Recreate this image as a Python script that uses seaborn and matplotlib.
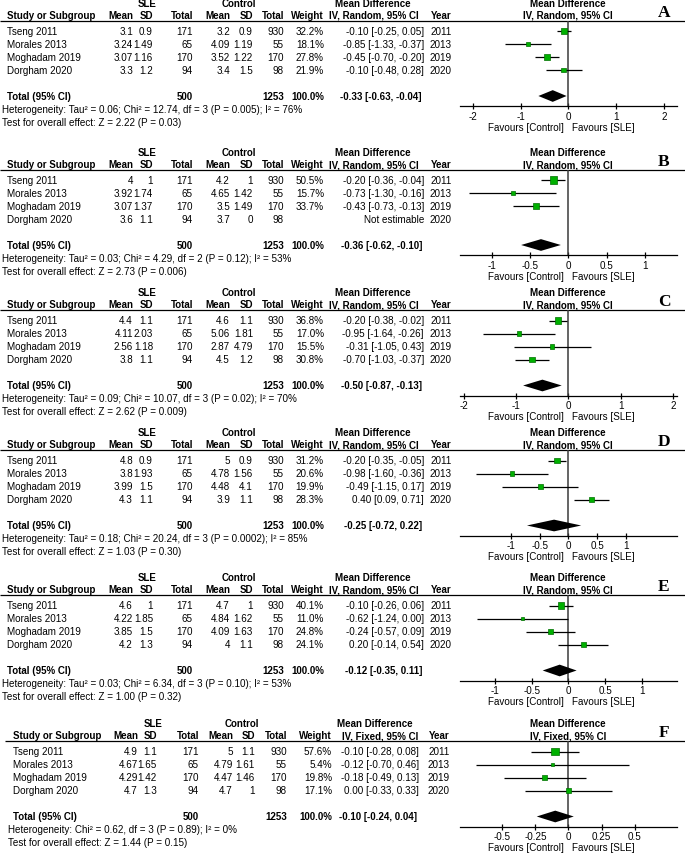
import numpy as np
import pandas as pd
import matplotlib
matplotlib.use("Agg")
import matplotlib.pyplot as plt
import seaborn as sns

nan = np.nan

# ---------------- data ----------------
panels = ["A", "B", "C", "D", "E", "F"]
studies = ["Tseng 2011", "Morales 2013", "Moghadam 2019", "Dorgham 2020"]
years = [2011, 2013, 2019, 2020]
sle_n = [171, 65, 170, 94]
ctl_n = [930, 55, 170, 98]
sle_total = 500
ctl_total = 1253

sle_mean = {"A": [3.1, 3.24, 3.07, 3.3], "B": [4, 3.92, 3.07, 3.6], "C": [4.4, 4.11, 2.56, 3.8],
            "D": [4.8, 3.8, 3.99, 4.3], "E": [4.6, 4.22, 3.85, 4.2], "F": [4.9, 4.67, 4.29, 4.7]}
sle_sd = {"A": [0.9, 1.49, 1.16, 1.2], "B": [1, 1.74, 1.37, 1.1], "C": [1.1, 2.03, 1.18, 1.1],
          "D": [0.9, 1.93, 1.5, 1.1], "E": [1, 1.85, 1.5, 1.3], "F": [1.1, 1.65, 1.42, 1.3]}
ctl_mean = {"A": [3.2, 4.09, 3.52, 3.4], "B": [4.2, 4.65, 3.5, 3.7], "C": [4.6, 5.06, 2.87, 4.5],
            "D": [5, 4.78, 4.48, 3.9], "E": [4.7, 4.84, 4.09, 4], "F": [5, 4.79, 4.47, 4.7]}
ctl_sd = {"A": [0.9, 1.19, 1.22, 1.5], "B": [1, 1.42, 1.49, 0], "C": [1.1, 1.81, 4.79, 1.2],
          "D": [0.9, 1.56, 4.1, 1.1], "E": [1, 1.62, 1.63, 1.1], "F": [1.1, 1.61, 1.46, 1]}
weight = {"A": [32.2, 18.1, 27.8, 21.9], "B": [50.5, 15.7, 33.7, nan], "C": [36.8, 17.0, 15.5, 30.8],
          "D": [31.2, 20.6, 19.9, 28.3], "E": [40.1, 11.0, 24.8, 24.1], "F": [57.6, 5.4, 19.8, 17.1]}
md = {"A": [-0.10, -0.85, -0.45, -0.10], "B": [-0.20, -0.73, -0.43, nan], "C": [-0.20, -0.95, -0.31, -0.70],
      "D": [-0.20, -0.98, -0.49, 0.40], "E": [-0.10, -0.62, -0.24, 0.20], "F": [-0.10, -0.12, -0.18, 0.00]}
md_lo = {"A": [-0.25, -1.33, -0.70, -0.48], "B": [-0.36, -1.30, -0.73, nan], "C": [-0.38, -1.64, -1.05, -1.03],
         "D": [-0.35, -1.60, -1.15, 0.09], "E": [-0.26, -1.24, -0.57, -0.14], "F": [-0.28, -0.70, -0.49, -0.33]}
md_hi = {"A": [0.05, -0.37, -0.20, 0.28], "B": [-0.04, -0.16, -0.13, nan], "C": [-0.02, -0.26, 0.43, -0.37],
         "D": [-0.05, -0.36, 0.17, 0.71], "E": [0.06, 0.00, 0.09, 0.54], "F": [0.08, 0.46, 0.13, 0.33]}
total_md = {"A": -0.33, "B": -0.36, "C": -0.50, "D": -0.25, "E": -0.12, "F": -0.10}
total_lo = {"A": -0.63, "B": -0.62, "C": -0.87, "D": -0.72, "E": -0.35, "F": -0.24}
total_hi = {"A": -0.04, "B": -0.10, "C": -0.13, "D": 0.22, "E": 0.11, "F": 0.04}
tau2 = {"A": 0.06, "B": 0.03, "C": 0.09, "D": 0.18, "E": 0.03, "F": None}
chi2 = {"A": 12.74, "B": 4.29, "C": 10.07, "D": 20.24, "E": 6.34, "F": 0.62}
df_het = {"A": 3, "B": 2, "C": 3, "D": 3, "E": 3, "F": 3}
p_het = {"A": "0.005", "B": "0.12", "C": "0.02", "D": "0.0002", "E": "0.10", "F": "0.89"}
i2 = {"A": 76, "B": 53, "C": 70, "D": 85, "E": 53, "F": 0}
z_val = {"A": 2.22, "B": 2.73, "C": 2.62, "D": 1.03, "E": 1.00, "F": 1.44}
p_z = {"A": "0.03", "B": "0.006", "C": "0.009", "D": "0.30", "E": "0.32", "F": "0.15"}
model = {"A": "Random", "B": "Random", "C": "Random", "D": "Random", "E": "Random", "F": "Fixed"}
ticks = {"A": [-2, -1, 0, 1, 2], "B": [-1, -0.5, 0, 0.5, 1], "C": [-2, -1, 0, 1, 2],
         "D": [-1, -0.5, 0, 0.5, 1], "E": [-1, -0.5, 0, 0.5, 1], "F": [-0.5, -0.25, 0, 0.25, 0.5]}

# ---------------- layout (pixels) ----------------
W, H = 685, 854
underline_y = {"A": 21.5, "B": 170.5, "C": 311, "D": 451, "E": 596, "F": 742}
half_width = {"A": 2.27, "B": 1.42, "C": 2.08, "D": 1.88, "E": 1.47, "F": 0.82}
cols_std = dict(study=7, het=2, mean=133, sd=153, tot=193, cmean=230, csd=253, ctot=284, wt=324,
                md=424, mdh1=411, mdh2=419, year=441, sle=147, ctl=239, line0=0)
cols_F = dict(study=13, het=8, mean=138, sd=157, tot=199, cmean=233, csd=255, ctot=287, wt=332,
              md=419, mdh1=413, mdh2=418, year=439, sle=153, ctl=242, line0=5)
plot_left, plot_right = 460, 677
plot_center = 568
axis_drop = 85.5
row_top, row_pitch = 10.5, 13.0

sns.set_theme(style="white")
plt.rcParams["font.family"] = ["Liberation Sans", "DejaVu Sans"]
plt.rcParams["axes.unicode_minus"] = False

fig = plt.figure(figsize=(W / 100, H / 100), dpi=100)
tax = fig.add_axes([0, 0, 1, 1])
tax.set_xlim(0, W)
tax.set_ylim(H, 0)
tax.axis("off")

FS = 7.1
FSB = 7.0


def T(x, y, s, ha="left", bold=False, **kw):
    tax.text(x, y, s, ha=ha, va="center", fontsize=FSB if bold else FS,
             fontweight="bold" if bold else "normal", color="black", **kw)


def g(v):
    return f"{v:g}"


for p in panels:
    U = underline_y[p]
    c = cols_F if p == "F" else cols_std
    meth = f"IV, {model[p]}, 95% CI"

    # headers
    h1, h2 = U - 17.5, U - 5.5
    T(c["sle"], h1, "SLE", ha="center", bold=True)
    T(c["ctl"], h1, "Control", ha="center", bold=True)
    T(c["mdh1"], h1, "Mean Difference", ha="right", bold=True)
    T(plot_center, h1, "Mean Difference", ha="center", bold=True)
    T(c["study"], h2, "Study or Subgroup", bold=True)
    T(c["mean"], h2, "Mean", ha="right", bold=True)
    T(c["sd"], h2, "SD", ha="right", bold=True)
    T(c["tot"], h2, "Total", ha="right", bold=True)
    T(c["cmean"], h2, "Mean", ha="right", bold=True)
    T(c["csd"], h2, "SD", ha="right", bold=True)
    T(c["ctot"], h2, "Total", ha="right", bold=True)
    T(c["wt"], h2, "Weight", ha="right", bold=True)
    T(c["mdh2"], h2, meth, ha="right", bold=True)
    T(c["year"], h2, "Year", ha="center", bold=True)
    T(plot_center, h2, meth, ha="center", bold=True)
    tax.plot([c["line0"], W], [U, U], color="black", lw=0.9, solid_capstyle="butt")

    # panel letter
    tax.text(664, U - 8.5, p, ha="center", va="center", fontsize=12.5, fontweight="bold",
             family=["Liberation Serif", "DejaVu Serif"], color="black")

    # study rows
    for i in range(4):
        y = U + row_top + row_pitch * i
        T(c["study"], y, studies[i])
        T(c["mean"], y, g(sle_mean[p][i]), ha="right")
        T(c["sd"], y, g(sle_sd[p][i]), ha="right")
        T(c["tot"], y, str(sle_n[i]), ha="right")
        T(c["cmean"], y, g(ctl_mean[p][i]), ha="right")
        T(c["csd"], y, g(ctl_sd[p][i]), ha="right")
        T(c["ctot"], y, str(ctl_n[i]), ha="right")
        if np.isnan(md[p][i]):
            T(c["md"], y, "Not estimable", ha="right")
        else:
            T(c["wt"], y, f"{weight[p][i]:.1f}%", ha="right")
            T(c["md"], y, f"{md[p][i]:.2f} [{md_lo[p][i]:.2f}, {md_hi[p][i]:.2f}]", ha="right")
        T(c["year"], y, str(years[i]), ha="center")

    # total row
    yt = U + row_top + row_pitch * 5
    T(c["study"], yt, "Total (95% CI)", bold=True)
    T(c["tot"], yt, str(sle_total), ha="right", bold=True)
    T(c["ctot"], yt, str(ctl_total), ha="right", bold=True)
    T(c["wt"], yt, "100.0%", ha="right", bold=True)
    T(c["md"] - 2, yt, f"{total_md[p]:.2f} [{total_lo[p]:.2f}, {total_hi[p]:.2f}]", ha="right", bold=True)

    het = "Heterogeneity: "
    if tau2[p] is not None:
        het += f"Tau² = {tau2[p]:.2f}; "
    het += f"Chi² = {chi2[p]:.2f}, df = {df_het[p]} (P = {p_het[p]}); I² = {i2[p]}%"
    T(c["het"], U + 88.5, het)
    T(c["het"], U + 101.5, f"Test for overall effect: Z = {z_val[p]:.2f} (P = {p_z[p]})")

    # favours
    T(plot_center - 4, U + 106.5, "Favours [Control]", ha="right")
    T(plot_center + 4, U + 106.5, "Favours [SLE]", ha="left")

    # forest axes
    fax = fig.add_axes([plot_left / W, 1 - (U + axis_drop) / H,
                        (plot_right - plot_left) / W, axis_drop / H])
    fax.patch.set_alpha(0)
    hw = half_width[p]
    fax.set_xlim(-hw, hw)
    y_bottom = (axis_drop - row_top) / row_pitch
    y_topv = -row_top / row_pitch
    fax.set_ylim(y_bottom, y_topv)
    fax.axvline(0, color="#3a3a3a", lw=1.1, zorder=1)

    d = pd.DataFrame({"md": md[p], "lo": md_lo[p], "hi": md_hi[p],
                      "w": weight[p], "row": np.arange(4, dtype=float)}).dropna()
    fax.hlines(d["row"], d["lo"], d["hi"], color="black", lw=0.9, zorder=2)
    sns.scatterplot(data=d, x="md", y="row", marker="s", s=d["w"].values * 0.55,
                    color="#00b000", edgecolor="#006f00", linewidth=0.5,
                    ax=fax, zorder=3, legend=False)
    tr = 5.0
    fax.fill([total_lo[p], total_md[p], total_hi[p], total_md[p]],
             [tr, tr - 0.45, tr, tr + 0.45], color="black", lw=0, zorder=3)

    fax.set_xlabel("")
    fax.set_ylabel("")
    fax.set_yticks([])
    fax.set_xticks(ticks[p])
    fax.set_xticklabels([g(t) for t in ticks[p]])
    fax.tick_params(axis="x", direction="inout", length=5, width=0.9, pad=1.0,
                    labelsize=FS, colors="black", bottom=True)
    for s in ["left", "top", "right"]:
        fax.spines[s].set_visible(False)
    fax.spines["bottom"].set_color("black")
    fax.spines["bottom"].set_linewidth(0.9)

fig.savefig("out.png", dpi=100, facecolor="white")
